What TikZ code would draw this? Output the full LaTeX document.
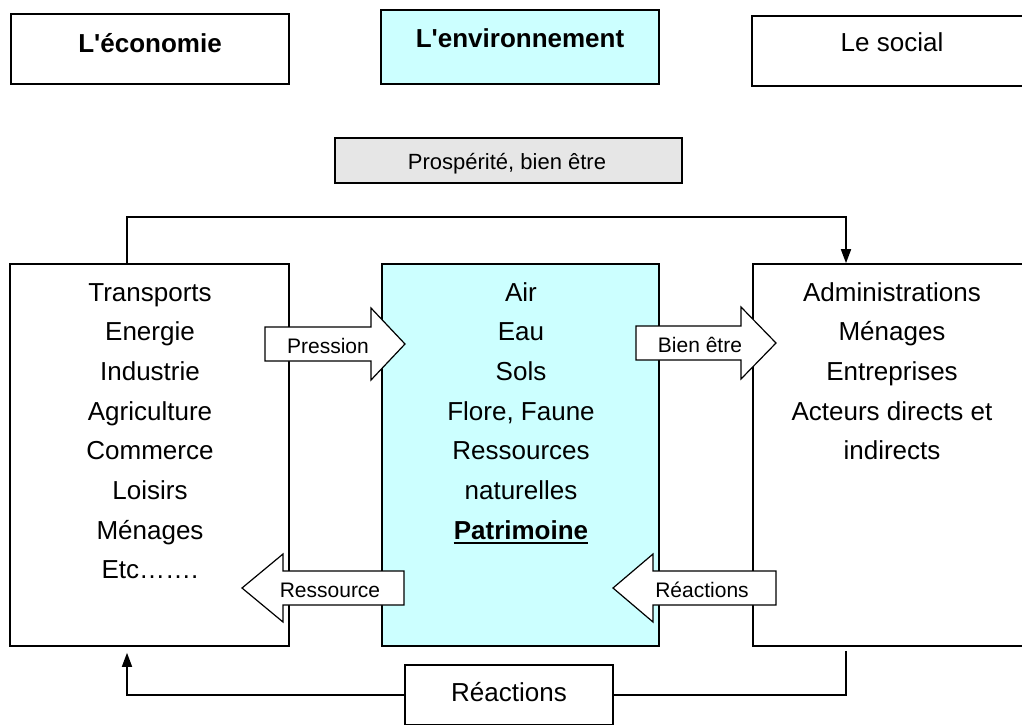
\documentclass[tikz,border=0pt]{standalone}
\usepackage{fontspec}
\setmainfont{Liberation Sans}
\usetikzlibrary{arrows.meta}
\definecolor{envcyan}{HTML}{CCFFFF}
\definecolor{pgray}{HTML}{E6E6E6}
\begin{document}
\begin{tikzpicture}[x=1pt,y=-1pt,
  box/.style={draw=black, line width=1.6pt, rectangle, inner sep=0pt},
  big/.style={font=\fontsize{26}{31}\selectfont, inner sep=0pt, anchor=base},
  mid/.style={font=\fontsize{22}{26}\selectfont, inner sep=0pt, anchor=base},
  small/.style={font=\fontsize{21}{25}\selectfont, inner sep=0pt, anchor=base},
  conn/.style={line width=1.6pt},
  tip/.style={-{Triangle[length=14pt,width=10pt]}},
  barrow/.style={draw=black, fill=white, line width=1.2pt, line join=miter}]

\useasboundingbox (0,0) rectangle (1022,724);
\clip (0,0) rectangle (1022,724);

% top title boxes
\node[box, minimum width=278pt, minimum height=70pt] (ecot) at (150,49) {};
\node[box, fill=envcyan, minimum width=278pt, minimum height=74pt] (envt) at (520,47) {};
\node[box, minimum width=288pt, minimum height=70pt] (soct) at (896,51) {};
\node[big] (ecotitle) at (150,52) {\bfseries L\textquotesingle économie};
\node[big] (envtitle) at (520,47) {\bfseries L\textquotesingle environnement};
\node[big] (soctitle) at (892,51) {Le social};

% prosperite
\node[box, fill=pgray, minimum width=347pt, minimum height=45pt] (prosp) at (508.5,160.5) {};
\node[mid] (prosptxt) at (507,169) {Prospérité, bien être};

% main boxes
\node[box, minimum width=279pt, minimum height=382pt] (ecobox) at (149.5,455) {};
\node[box, fill=envcyan, minimum width=277pt, minimum height=382pt] (envbox) at (520.5,455) {};
\node[box, minimum width=278pt, minimum height=382pt] (socbox) at (892,455) {};

\foreach \t [count=\i] in {Transports,Energie,Industrie,Agriculture,Commerce,Loisirs,Ménages,Etc…….}
  \node[big] (eco\i) at (150,{301+39.7*(\i-1)}) {\t};
\foreach \t [count=\i] in {Air,Eau,Sols,{Flore, Faune},Ressources,naturelles}
  \node[big] (env\i) at (521,{301+39.7*(\i-1)}) {\t};
\node[big] (env7) at (521,{301+39.7*6}) {\bfseries Patrimoine};
\draw[line width=2pt] ([yshift=-4pt]env7.base west) -- ([yshift=-4pt]env7.base east);
\foreach \t [count=\i] in {Administrations,Ménages,Entreprises,Acteurs directs et,indirects}
  \node[big] (soc\i) at (892,{301+39.7*(\i-1)}) {\t};

% block arrows
\draw[barrow] (265,327) -- (371,327) -- (371,308) -- (405,344) -- (371,380) -- (371,361) -- (265,361) -- cycle;
\node[small] (pression) at (328,353) {Pression};
\draw[barrow] (636,326) -- (741,326) -- (741,307) -- (776,343) -- (741,379) -- (741,360) -- (636,360) -- cycle;
\node[small] (bienetre) at (700,352) {Bien être};
\draw[barrow] (404,571) -- (283,571) -- (283,554) -- (242,588) -- (283,622) -- (283,605) -- (404,605) -- cycle;
\node[small] (ressource) at (330,597) {Ressource};
\draw[barrow] (776,571) -- (653,571) -- (653,554) -- (613,588) -- (653,622) -- (653,605) -- (776,605) -- cycle;
\node[small] (reacsmall) at (702,597) {Réactions};

% bottom box
\node[box, fill=white, minimum width=208pt, minimum height=60pt] (botbox) at (509,695) {};
\node[big] (bottxt) at (509,701) {Réactions};

% connectors
\draw[conn, tip] (ecobox.north -| 127,0) -- ++(0,-46) -| (socbox.north -| 846,0);
\draw[conn, shorten <=4pt] (socbox.south -| 846,0) |- (botbox.east);
\draw[conn, tip, shorten >=6pt] (botbox.west) -| (ecobox.south -| 127,0);
\end{tikzpicture}
\end{document}
